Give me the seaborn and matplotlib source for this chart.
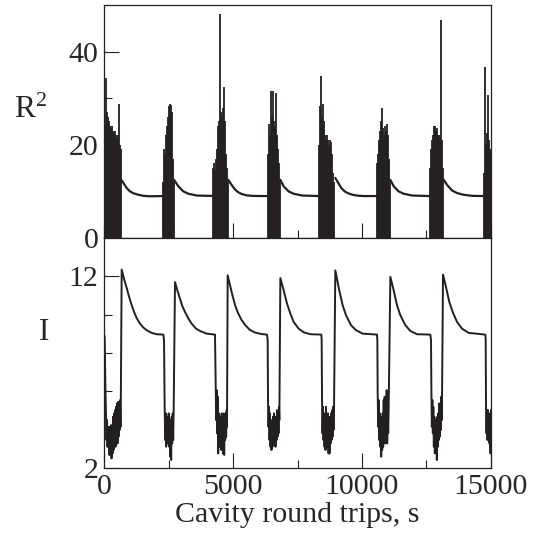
import numpy as np
import pandas as pd
import matplotlib
matplotlib.use('Agg')
import matplotlib.pyplot as plt
import seaborn as sns
from matplotlib.ticker import FixedLocator, NullFormatter

sns.set_style('ticks')
plt.rcParams['font.family'] = ['Liberation Serif', 'DejaVu Serif']
plt.rcParams['mathtext.fontset'] = 'custom'
plt.rcParams['mathtext.rm'] = 'Liberation Serif'
plt.rcParams['mathtext.it'] = 'Liberation Serif:italic'

INK = '#231f20'

# ---------------- I (bottom panel) ----------------
I_x_burst1 = [0, 26, 52, 78, 97, 116, 136, 155, 174, 194, 213, 233, 252, 271, 291, 310, 330, 349, 368, 388,
              407, 426, 446, 465, 485, 504, 523, 543, 562, 581, 601, 620, 640, 652]
I_y_burst1 = [8.96, 8.84, 6.41, 4.67, 3.46, 4.50, 3.11, 4.15, 3.11, 3.81, 2.68, 4.15, 2.76, 4.24, 2.50, 3.98,
              2.76, 4.67, 2.94, 4.85, 3.28, 5.02, 3.11, 5.19, 3.46, 5.37, 3.28, 5.45, 3.63, 5.37, 3.98, 5.54,
              4.15, 5.54]
I_x_decay1 = [685, 780, 878, 969, 1072, 1163, 1266, 1395, 1525, 1654, 1848, 2041, 2300]
I_y_decay1 = [12.35, 11.85, 11.40, 10.95, 10.50, 10.15, 9.82, 9.53, 9.33, 9.19, 9.05, 8.98, 8.96]

I_x_burst2 = [2326, 2351, 2371, 2390, 2410, 2429, 2448, 2468, 2487, 2507, 2526, 2545, 2565, 2584, 2603, 2623,
              2642, 2662, 2681, 2700]
I_y_burst2 = [8.67, 5.19, 3.46, 4.85, 3.11, 4.50, 3.28, 4.67, 3.46, 4.85, 3.11, 4.15, 2.59, 4.50, 2.42, 4.67,
              3.28, 4.85, 3.46, 5.02]
I_x_decay2 = [2752, 2842, 2946, 3036, 3140, 3269, 3398, 3566, 3721, 3979, 4302]
I_y_decay2 = [11.70, 11.27, 10.84, 10.45, 10.14, 9.80, 9.53, 9.27, 9.15, 9.01, 8.96]

I_x_burst3 = [4328, 4348, 4367, 4386, 4406, 4425, 4444, 4464, 4483, 4503, 4522, 4541, 4561, 4580, 4600, 4619,
              4638, 4658, 4677, 4696, 4716, 4735, 4755, 4767]
I_y_burst3 = [6.32, 4.50, 6.06, 3.81, 5.72, 2.76, 4.85, 3.11, 4.50, 3.46, 4.67, 2.94, 4.85, 3.46, 4.67, 2.76,
              4.85, 2.68, 4.67, 3.46, 4.85, 3.63, 5.02, 4.15]
I_x_decay3 = [4793, 4880, 4980, 5080, 5190, 5320, 5460, 5640, 5850, 6100, 6318]
I_y_decay3 = [12.05, 11.55, 11.00, 10.50, 10.10, 9.75, 9.48, 9.22, 9.07, 8.99, 8.96]

I_x_burst4 = [6344, 6357, 6376, 6395, 6415, 6434, 6453, 6473, 6492, 6512, 6531, 6550, 6570, 6589, 6609, 6628,
              6647, 6667, 6686, 6705, 6725, 6744, 6764, 6783, 6796]
I_y_burst4 = [8.67, 5.54, 4.15, 5.19, 3.46, 4.85, 3.11, 4.50, 2.94, 4.15, 3.11, 4.67, 3.46, 4.85, 3.28, 4.67,
              3.11, 4.50, 3.46, 5.02, 3.63, 4.85, 3.81, 5.19, 4.50]
I_x_decay4 = [6835, 6964, 7093, 7222, 7351, 7545, 7739, 7997, 8424]
I_y_decay4 = [11.91, 11.27, 10.58, 10.06, 9.62, 9.27, 9.08, 8.98, 8.96]

I_x_burst5 = [8437, 8450, 8469, 8488, 8508, 8527, 8547, 8566, 8585, 8605, 8624, 8643, 8663, 8682, 8702, 8721,
              8740, 8760, 8779, 8798, 8818, 8837, 8857, 8876, 8895, 8915]
I_y_burst5 = [8.67, 5.72, 3.81, 5.19, 3.46, 4.85, 3.11, 4.50, 2.94, 5.19, 3.28, 4.50, 3.11, 4.85, 2.76, 4.32,
              2.76, 4.67, 3.28, 4.85, 3.46, 5.02, 3.63, 5.19, 3.98, 5.02]
I_x_decay5 = [8966, 9040, 9118, 9250, 9380, 9574, 9768, 10026, 10582]
I_y_decay5 = [12.31, 11.80, 11.27, 10.49, 9.97, 9.45, 9.19, 9.01, 8.96]

I_x_burst6 = [10595, 10608, 10627, 10646, 10666, 10685, 10705, 10724, 10743, 10763, 10782, 10801, 10821, 10840,
              10860, 10879, 10898, 10918, 10937, 10956, 10976, 10995, 11015, 11034]
I_y_burst6 = [8.67, 5.89, 4.15, 5.54, 3.46, 4.85, 3.11, 4.67, 2.59, 4.50, 2.94, 4.85, 3.11, 5.54, 3.46, 5.72,
              3.28, 5.19, 3.46, 6.06, 3.28, 4.85, 3.81, 5.19]
I_x_decay6 = [11099, 11228, 11357, 11486, 11680, 11874, 12132, 12649]
I_y_decay6 = [11.97, 11.27, 10.49, 9.97, 9.45, 9.15, 8.98, 8.96]

I_x_burst7 = [12675, 12688, 12707, 12727, 12746, 12765, 12785, 12804, 12824, 12843, 12862, 12882, 12901, 12920,
              12940, 12959, 12978, 12998, 13017, 13037, 13056, 13075, 13095]
I_y_burst7 = [8.67, 6.24, 4.15, 5.54, 3.81, 5.19, 3.11, 4.67, 2.76, 4.50, 3.11, 4.15, 2.42, 4.67, 3.11, 4.85,
              3.46, 5.37, 3.63, 5.19, 3.98, 5.72, 4.50]
I_x_decay7 = [13140, 13256, 13385, 13515, 13683, 13876, 14135, 14781]
I_y_decay7 = [12.09, 11.44, 10.66, 10.14, 9.62, 9.27, 9.05, 8.96]

I_x_burst8 = [14794, 14807, 14826, 14845, 14865, 14884, 14904, 14923, 14942, 14962, 14981, 14998]
I_y_burst8 = [8.67, 5.19, 3.81, 5.02, 3.46, 5.02, 3.63, 4.67, 3.28, 4.85, 2.76, 5.02]

# ---------------- R^2 (top panel) ----------------
# smooth relaxation segments between the bursts
R2_seg_x = [
    [650, 755, 880, 1010, 1140, 1335, 1530, 1780, 2275],
    [2713, 2880, 3074, 3267, 3590, 3977, 4235],
    [4815, 4920, 5050, 5180, 5330, 5530, 5800, 6355],
    [6835, 6960, 7155, 7350, 7675, 8063, 8335],
    [8965, 9070, 9200, 9330, 9460, 9650, 9850, 10100, 10580],
    [11097, 11228, 11420, 11614, 11938, 12325, 12610],
    [13165, 13295, 13490, 13683, 13940, 14263, 14690],
]
R2_seg_y = [
    [12.6, 11.8, 10.7, 10.0, 9.6, 9.27, 9.05, 8.95, 9.0],
    [12.5, 11.1, 10.0, 9.5, 9.12, 9.05, 9.05],
    [12.5, 11.6, 10.6, 9.9, 9.45, 9.15, 9.02, 9.0],
    [12.5, 11.1, 10.0, 9.5, 9.12, 9.05, 9.0],
    [12.9, 11.9, 10.7, 10.0, 9.6, 9.25, 9.07, 9.0, 9.0],
    [12.5, 11.1, 10.0, 9.5, 9.12, 9.05, 9.0],
    [12.5, 11.4, 10.2, 9.65, 9.27, 9.05, 9.0],
]
# oscillation bursts: time span and spike heights sampled across the burst
R2_burst_span = [(0, 650), (2275, 2715), (4235, 4815), (6355, 6835), (8340, 8930),
                 (10580, 11085), (12640, 13145), (14720, 15000)]
R2_burst_peaks = [
    [15, 24, 34.3, 27, 26, 25, 24, 23.5, 24, 23, 22.5, 23, 22, 21.5, 22, 28.8, 20, 19],
    [12, 19, 18, 22, 24, 26, 28.3, 28.8, 28.5, 27, 17, 12],
    [15, 16, 14.5, 17, 19, 24, 25, 48, 27, 26, 28, 32.5, 25, 18, 15, 12],
    [18, 24.4, 22, 31.5, 26, 31.5, 25, 24, 31.2, 22, 19, 16, 12],
    [20, 28.3, 34.8, 26, 28.7, 25, 22, 21, 22, 21, 20, 21, 20.5, 18, 14, 12],
    [16, 18, 21, 23, 25, 27.9, 23.6, 22, 24, 23, 24.5, 22, 17, 12],
    [15, 19, 21, 22, 24, 24, 23, 23.5, 22, 22, 21.5, 46.8, 21, 15],
    [14, 36.6, 20, 22.5, 30.7, 21, 19, 18],
]

# ---------------- assemble tables ----------------
I_x = (I_x_burst1 + I_x_decay1 + I_x_burst2 + I_x_decay2 + I_x_burst3 + I_x_decay3 + I_x_burst4 + I_x_decay4 +
       I_x_burst5 + I_x_decay5 + I_x_burst6 + I_x_decay6 + I_x_burst7 + I_x_decay7 + I_x_burst8)
I_y = (I_y_burst1 + I_y_decay1 + I_y_burst2 + I_y_decay2 + I_y_burst3 + I_y_decay3 + I_y_burst4 + I_y_decay4 +
       I_y_burst5 + I_y_decay5 + I_y_burst6 + I_y_decay6 + I_y_burst7 + I_y_decay7 + I_y_burst8)
df_I = pd.DataFrame({'t': I_x, 'I': I_y})

rows = []
for k, (xs, ys) in enumerate(zip(R2_seg_x, R2_seg_y)):
    for xv, yv in zip(xs, ys):
        rows.append((k, xv, yv))
df_R2 = pd.DataFrame(rows, columns=['seg', 't', 'R2'])

spk_x, spk_h = [], []
for (a, b), hs in zip(R2_burst_span, R2_burst_peaks):
    spk_x.extend(np.linspace(a, b, len(hs)))
    spk_h.extend(hs)

# ---------------- figure ----------------
fig = plt.figure(figsize=(5.42, 5.43), dpi=100)
ax1 = fig.add_axes([0.1919, 0.5617, 0.714, 0.4291])
ax2 = fig.add_axes([0.1919, 0.1381, 0.714, 0.4236])

ax1.vlines(spk_x, 0, spk_h, color=INK, lw=1.3)
sns.lineplot(data=df_R2, x='t', y='R2', units='seg', estimator=None, sort=False,
             color=INK, lw=1.6, ax=ax1, legend=False)
sns.lineplot(data=df_I, x='t', y='I', estimator=None, sort=False,
             color=INK, lw=1.4, ax=ax2, legend=False)

FS = 21.5
for ax in (ax1, ax2):
    ax.set_xlim(0, 15000)
    ax.xaxis.set_major_locator(FixedLocator([0, 5000, 10000, 15000]))
    ax.xaxis.set_minor_locator(FixedLocator([2500, 7500, 12500]))
    ax.tick_params(which='major', direction='in', length=10.5, width=0.8, color=INK,
                   labelsize=FS, pad=4, top=False, right=False)
    ax.tick_params(which='minor', direction='in', length=6, width=0.8, color=INK,
                   top=False, right=False)
    for s in ax.spines.values():
        s.set_linewidth(0.9)
        s.set_color(INK)
    ax.set_xlabel('')
    ax.set_ylabel('')

ax1.set_ylim(0, 50)
ax1.yaxis.set_major_locator(FixedLocator([0, 20, 40]))
ax1.yaxis.set_minor_locator(FixedLocator([10, 30]))
ax1.xaxis.set_major_formatter(NullFormatter())

ax2.set_ylim(2, 14)
ax2.yaxis.set_major_locator(FixedLocator([2, 12]))
ax2.yaxis.set_minor_locator(FixedLocator([4, 6, 8, 10]))

ax1.set_ylabel(r'$\mathrm{R}^{2}$', fontsize=FS + 1, rotation=0, ha='center', va='center')
ax1.yaxis.set_label_coords(-0.189, 0.549)
ax2.set_ylabel('I', fontsize=FS + 1, rotation=0, ha='center', va='center')
ax2.yaxis.set_label_coords(-0.155, 0.587)
ax2.set_xlabel('Cavity round trips, s', fontsize=FS, labelpad=2)

fig.savefig('out.png', dpi=100)
